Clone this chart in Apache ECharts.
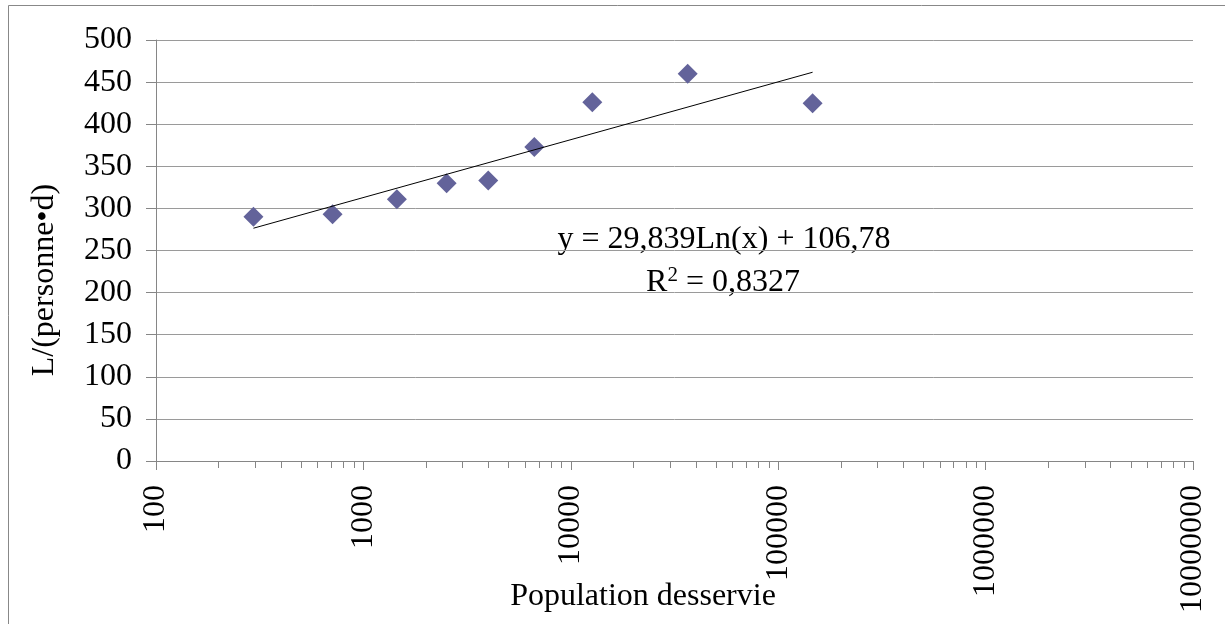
<!DOCTYPE html>
<html>
<head>
<meta charset="utf-8">
<script src="https://cdn.jsdelivr.net/npm/echarts@6/dist/echarts.min.js"></script>
<style>
html,body{margin:0;padding:0;background:#fff;}
#chart{width:1225px;height:624px;}
</style>
</head>
<body>
<div id="chart"></div>
<script>
// ---- data ----
const population = [295, 710, 1450, 2520, 4000, 6670, 12700, 36600, 146500];
const consumption = [290, 293, 311, 330, 333, 373, 426, 460, 425];
const xTicks = [100, 1000, 10000, 100000, 1000000, 10000000];
const yMin = 0, yMax = 500, yStep = 50;
const trendSlope = 29.839, trendIntercept = 106.78;
const equationText = 'y = 29,839Ln(x) + 106,78';
const r2Label = 'R', r2Sup = '2', r2Value = ' = 0,8327';
const xTitle = 'Population desservie';
const yTitle = 'L/(personne\u2022d)';

const FONT = '"Liberation Serif", "Times New Roman", serif';

const points = population.map((p, i) => [p, consumption[i]]);
const xLo = Math.min(...population), xHi = Math.max(...population);
const trend = [xLo, xHi].map(x => [x, trendSlope * Math.log(x) + trendIntercept]);

// minor ticks (2..9 within each decade)
const minorTicks = [];
for (let d = 0; d < xTicks.length - 1; d++) {
  for (let k = 2; k <= 9; k++) minorTicks.push([xTicks[d] * k, 0]);
}

const chart = echarts.init(document.getElementById('chart'), null, {renderer: 'canvas'});
chart.setOption({
  animation: false,
  backgroundColor: '#fff',
  grid: {left: 156, right: 32, top: 40, bottom: 163, outerBoundsMode: 'none', containLabel: false},
  xAxis: {
    type: 'log', logBase: 10, min: xTicks[0], max: xTicks[xTicks.length - 1],
    axisLine: {show: true, onZero: false, lineStyle: {color: '#868686', width: 1}},
    axisTick: {show: true, length: 9, lineStyle: {color: '#868686'}},
    splitLine: {show: false},
    minorTick: {show: false},
    axisLabel: {
      rotate: 90, margin: 24, color: '#000', fontFamily: FONT, fontSize: 32,
      formatter: v => String(Math.round(v)), showMinLabel: true, showMaxLabel: true
    }
  },
  yAxis: {
    type: 'value', min: yMin, max: yMax, interval: yStep,
    axisLine: {show: true, lineStyle: {color: '#868686', width: 1}},
    axisTick: {show: true, length: 10, lineStyle: {color: '#868686'}},
    splitLine: {show: true, lineStyle: {color: '#9a9a9a', width: 1}},
    axisLabel: {margin: 24, color: '#000', fontFamily: FONT, fontSize: 32}
  },
  series: [
    {
      type: 'custom', silent: true, clip: false, z: 1,
      data: minorTicks,
      renderItem: (params, api) => {
        const p = api.coord([api.value(0), 0]);
        return {type: 'line', shape: {x1: Math.round(p[0]) + 0.5, y1: p[1], x2: Math.round(p[0]) + 0.5, y2: p[1] + 7},
                style: {stroke: '#868686', lineWidth: 1}};
      }
    },
    {
      type: 'scatter', data: points, symbol: 'diamond', symbolSize: 20,
      itemStyle: {color: '#63639A', opacity: 1}, z: 3
    },
    {
      type: 'line', data: trend, symbol: 'none', silent: true, z: 4,
      lineStyle: {color: '#000', width: 1}
    }
  ],
  graphic: [
    {type: 'rect', shape: {x: 8.5, y: 5.5, width: 1300, height: 700}, style: {fill: 'none', stroke: '#888', lineWidth: 1}, silent: true},
    {type: 'text', x: 724, y: 240, style: {text: equationText, font: '32px ' + FONT, fill: '#000', align: 'center', verticalAlign: 'middle'}},
    {type: 'text', x: 723, y: 282, style: {
      text: '{a|' + r2Label + '}{s|' + r2Sup + '}{a|' + r2Value + '}',
      align: 'center', verticalAlign: 'middle',
      rich: {
        a: {fontFamily: FONT, fontSize: 32, fill: '#000', lineHeight: 34, verticalAlign: 'bottom'},
        s: {fontFamily: FONT, fontSize: 21, fill: '#000', lineHeight: 34, verticalAlign: 'top'}
      }
    }},
    {type: 'text', x: 643, y: 597, style: {text: xTitle, font: '32px ' + FONT, fill: '#000', align: 'center', verticalAlign: 'middle'}},
    {type: 'text', x: 45, y: 280, rotation: Math.PI / 2, style: {text: yTitle, font: '32px ' + FONT, fill: '#000', align: 'center', verticalAlign: 'middle'}}
  ]
});
</script>
</body>
</html>
